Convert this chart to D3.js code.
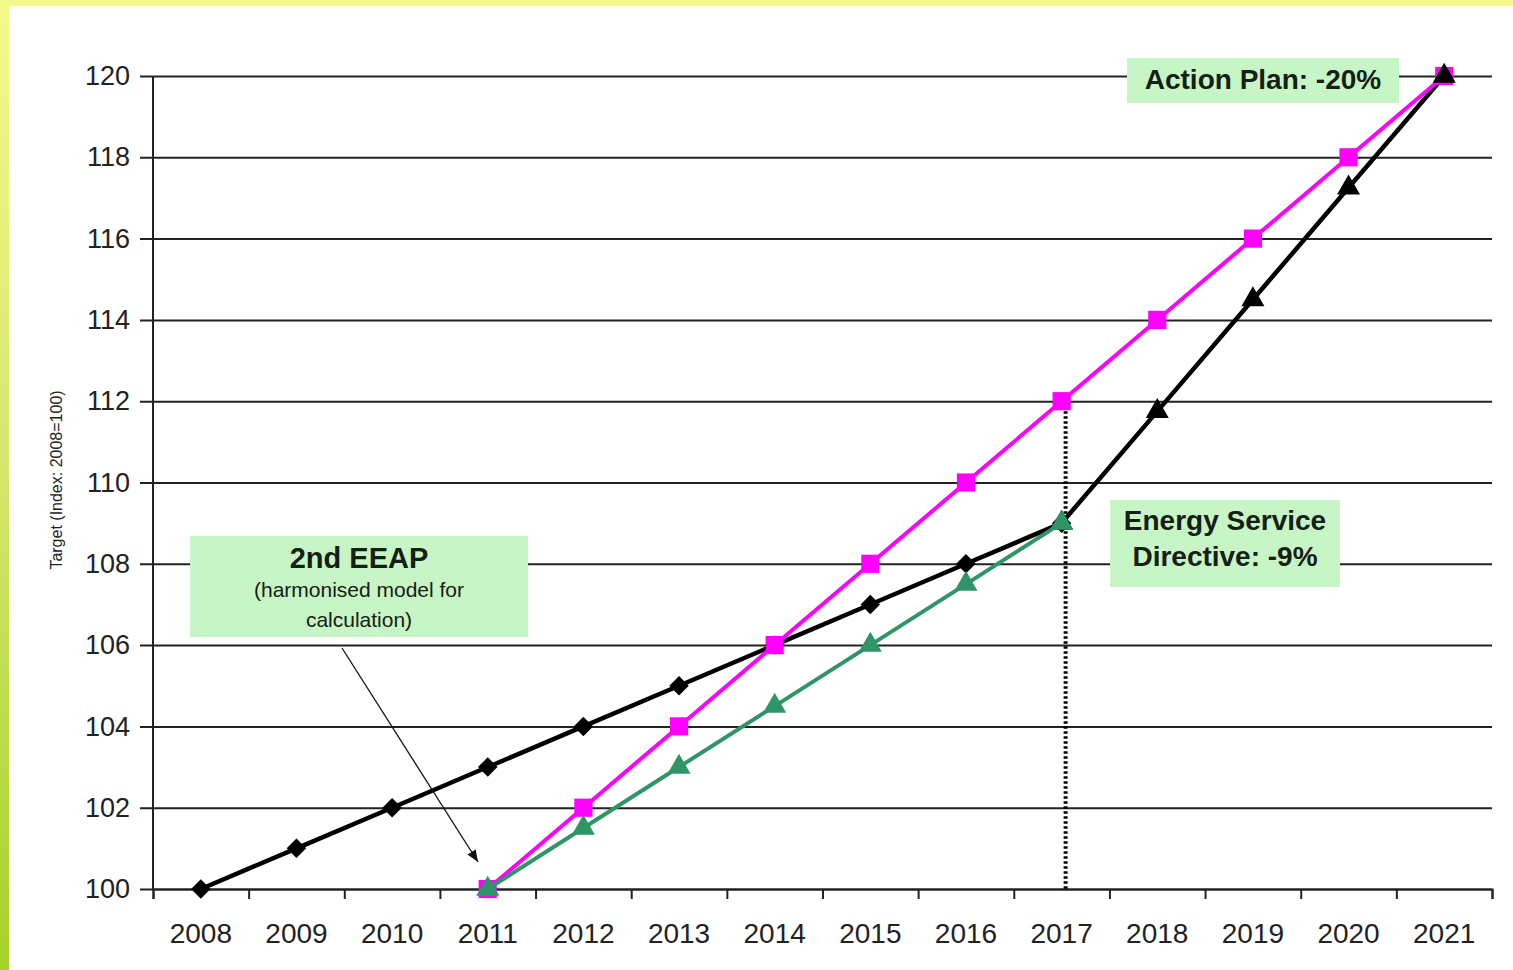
<!DOCTYPE html>
<html>
<head>
<meta charset="utf-8">
<script src="https://cdn.jsdelivr.net/npm/d3@7"></script>
<style>
  body { margin: 0; background: #fff; }
  text { font-family: "Liberation Sans", Arial, Helvetica, sans-serif; }
</style>
</head>
<body>
<svg id="chart" width="1513" height="970"></svg>
<script>
var years = ["2008","2009","2010","2011","2012","2013","2014","2015","2016","2017","2018","2019","2020","2021"];
var yTicks = [100,102,104,106,108,110,112,114,116,118,120];

// 2nd EEAP harmonised model, black diamonds
var eeapYears = ["2008","2009","2010","2011","2012","2013","2014","2015","2016","2017"];
var eeapValues = [100,101,102,103,104,105,106,107,108,109];

// Action plan -20%, magenta squares
var planYears = ["2011","2012","2013","2014","2015","2016","2017","2018","2019","2020","2021"];
var planValues = [100,102,104,106,108,110,112,114,116,118,120];

// Energy Service Directive -9%, green triangles
var esdYears = ["2011","2012","2013","2014","2015","2016","2017"];
var esdValues = [100,101.5,103,104.5,106,107.5,109];

// continuation after 2017, black triangles
var extYears = ["2017","2018","2019","2020","2021"];
var extValues = [109,111.75,114.5,117.25,120];

var svg = d3.select("#chart");
var plotLeft = 153, plotRight = 1492, plotTop = 76, plotBottom = 889;

// frame: yellow top strip, yellow-green left strip
var defs = svg.append("defs");
var grad = defs.append("linearGradient").attr("id","sideGrad")
    .attr("x1",0).attr("y1",0).attr("x2",0).attr("y2",1);
grad.append("stop").attr("offset","0%").attr("stop-color","#f5f98b");
grad.append("stop").attr("offset","50%").attr("stop-color","#d3e66a");
grad.append("stop").attr("offset","100%").attr("stop-color","#a6d12c");
svg.append("rect").attr("x",0).attr("y",0).attr("width",1513).attr("height",6).attr("fill","#f5f98b");
svg.append("rect").attr("x",0).attr("y",0).attr("width",9).attr("height",970).attr("fill","url(#sideGrad)");

defs.append("marker").attr("id","arrow")
    .attr("viewBox","0 0 10 10").attr("refX",10).attr("refY",5)
    .attr("markerWidth",12).attr("markerHeight",12).attr("markerUnits","userSpaceOnUse")
    .attr("orient","auto")
  .append("path").attr("d","M0,1 L10,5 L0,9 Z").attr("fill","#111");

var x = d3.scaleBand().domain(years).range([plotLeft, plotRight]);
var y = d3.scaleLinear().domain([100,120]).range([plotBottom, plotTop]);
function cx(d){ return x(d) + x.bandwidth()/2; }

// y axis with gridlines
var yAxis = svg.append("g").attr("transform","translate(" + plotLeft + ",0)")
    .call(d3.axisLeft(y).tickValues(yTicks).tickSize(13).tickPadding(10));
yAxis.select(".domain").remove();
yAxis.selectAll(".tick line").attr("x1", plotRight - plotLeft).attr("stroke","#222").attr("stroke-width",2);
yAxis.selectAll(".tick text").attr("font-size",27).attr("fill","#222");
svg.append("line").attr("x1",plotLeft).attr("x2",plotLeft).attr("y1",plotTop).attr("y2",plotBottom)
    .attr("stroke","#222").attr("stroke-width",2);

// x axis: boundary ticks + centered labels
var xEdge = d3.scaleLinear().domain([0, years.length]).range([plotLeft, plotRight]);
var xTickG = svg.append("g").attr("transform","translate(0," + plotBottom + ")")
    .call(d3.axisBottom(xEdge).ticks(years.length).tickFormat("").tickSize(10).tickSizeOuter(10));
xTickG.selectAll("path, line").attr("stroke","#222").attr("stroke-width",2);
var xLab = svg.append("g").attr("transform","translate(0," + plotBottom + ")")
    .call(d3.axisBottom(x).tickSize(0).tickPadding(34));
xLab.select(".domain").remove();
xLab.selectAll(".tick text").attr("font-size",28).attr("fill","#222");

svg.append("text")
    .attr("transform","translate(62,480) rotate(-90)")
    .attr("text-anchor","middle").attr("font-size",16).attr("fill","#222")
    .text("Target (Index: 2008=100)");

// dotted line at 2017
svg.append("line")
    .attr("x1", cx("2017") + 4).attr("x2", cx("2017") + 4)
    .attr("y1", y(112)).attr("y2", y(100))
    .attr("stroke","#000").attr("stroke-width",4).attr("stroke-dasharray","2.5,2.5");

function series(yrs, vals){ return yrs.map(function(d,i){ return {year:d, value:vals[i]}; }); }
var line = d3.line().x(function(d){ return cx(d.year); }).y(function(d){ return y(d.value); });

function drawLine(data, color, width){
  svg.append("path").datum(data).attr("fill","none")
     .attr("stroke",color).attr("stroke-width",width).attr("stroke-linejoin","round")
     .attr("d", line);
}
function drawMarkers(data, color, type, size, rot){
  svg.append("g").selectAll("path").data(data).enter().append("path")
     .attr("transform", function(d){ return "translate(" + cx(d.year) + "," + y(d.value) + ") rotate(" + (rot || 0) + ")"; })
     .attr("d", d3.symbol().type(type).size(size))
     .attr("fill", color);
}

var eeap = series(eeapYears, eeapValues);
var plan = series(planYears, planValues);
var esd = series(esdYears, esdValues);
var ext = series(extYears, extValues);

drawLine(eeap, "#000", 4.5);
drawMarkers(eeap, "#000", d3.symbolSquare, 190, 45);
drawLine(ext, "#000", 4.5);
drawLine(plan, "#ff00ff", 4);
drawMarkers(plan, "#ff00ff", d3.symbolSquare, 330);
drawMarkers(ext, "#000", d3.symbolTriangle, 230);
drawLine(esd, "#2f9567", 4);
drawMarkers(esd, "#2f9567", d3.symbolTriangle, 230);

// annotation boxes
function box(x0, y0, w, h, lines){
  var g = svg.append("g");
  g.append("rect").attr("x",x0).attr("y",y0).attr("width",w).attr("height",h).attr("fill","#c8f5c6");
  lines.forEach(function(l){
    g.append("text").attr("x", x0 + w/2).attr("y", l.y).attr("text-anchor","middle")
     .attr("font-size", l.size).attr("font-weight", l.weight).attr("fill","#142014").text(l.text);
  });
}
box(1127, 58, 272, 45, [{text:"Action Plan: -20%", y:89, size:28, weight:"bold"}]);
box(1110, 500, 230, 87, [
  {text:"Energy Service", y:530, size:28, weight:"bold"},
  {text:"Directive: -9%", y:566, size:28, weight:"bold"}]);
box(190, 536, 338, 101, [
  {text:"2nd EEAP", y:568, size:29, weight:"bold"},
  {text:"(harmonised model for", y:597, size:21, weight:"normal"},
  {text:"calculation)", y:627, size:21, weight:"normal"}]);

svg.append("line").attr("x1",342).attr("y1",648).attr("x2",478).attr("y2",862)
    .attr("stroke","#111").attr("stroke-width",1.3).attr("marker-end","url(#arrow)");
</script>
</body>
</html>
